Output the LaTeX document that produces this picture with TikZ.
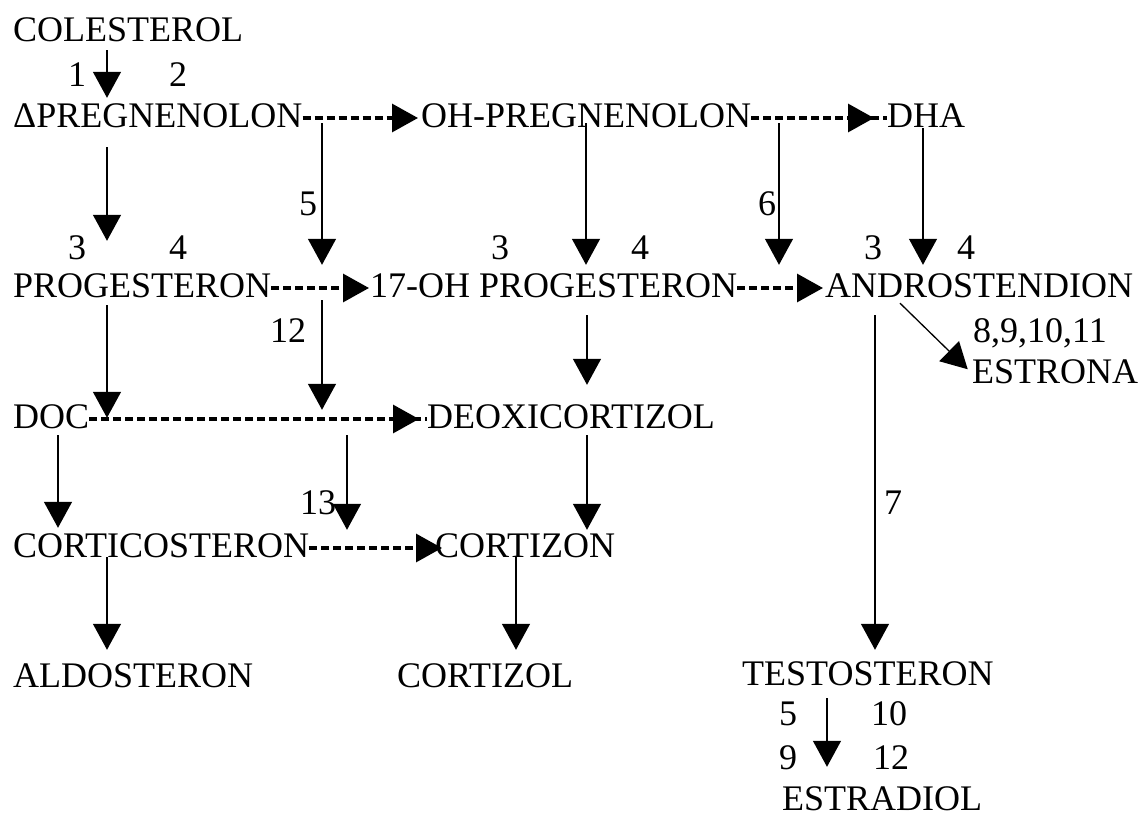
\documentclass[tikz,border=0pt]{standalone}
\usepackage{fontspec}
\setmainfont{Liberation Serif}
\usetikzlibrary{arrows.meta}

\tikzstyle{num} = [anchor=base, inner sep=0pt, font=\fontsize{36}{40}\selectfont]
\tikzset{
 h/.style
  = {anchor=base west, inner sep=0pt, text height=24pt, text depth=6pt,
     font=\fontsize{36}{40}\selectfont},
 ar/.style
  = {draw, line width=1.3pt, -{Triangle[length=26pt,width=28pt]}},
 dl/.style
  = {draw, line width=3.2pt, dash pattern=on 8pt off 4pt},
 dar/.style
  = {dl, -{Triangle[length=26pt,width=28pt]}, shorten >=#1},
 dar/.default = 1pt,
}

\begin{document}
\begin{tikzpicture}[x=1pt, y=-1pt]
\useasboundingbox (0,0) rectangle (1144,816);

% Colesterol
\node[h] (col) at (13,42) {COLESTEROL};
\node[num] (n1) at (77,87) {1};
\node[num] (n2) at (178,87) {2};

% Pregnenolon row
\node[h] (preg) at (13,127) {ΔPREGNENOLON};
\node[h] (ohpreg) at (421,127) {OH-PREGNENOLON};
\node[h] (dha) at (887,127) {DHA};

% Progesteron row
\node[h] (prog) at (13,297) {PROGESTERON};
\node[h] (ohprog) at (370,297) {17-OH PROGESTERON};
\node[h] (andro) at (825,297) {ANDROSTENDION};
\node[num] (p3) at (77,259) {3};
\node[num] (p4) at (178,259) {4};
\node[num] (q3) at (500,259) {3};
\node[num] (q4) at (640,259) {4};
\node[num] (r3) at (873,259) {3};
\node[num] (r4) at (966,259) {4};
\node[num] (n5) at (308,215) {5};
\node[num] (n6) at (767,215) {6};

% Estrona
\node[anchor=base west, inner sep=0pt, font=\fontsize{36}{40}\selectfont] (e8) at (973,342) {8,9,10,11};
\node[h] (estrona) at (972,383) {ESTRONA};

% Doc row
\node[h] (doc) at (13,428) {DOC};
\node[h] (deoxi) at (427,428) {DEOXICORTIZOL};
\node[num] (n12) at (288,342) {12};
\node[num] (n13) at (318,514) {13};
\node[num] (n7) at (893,514) {7};

% Corticosteron row
\node[h] (cortico) at (13,557) {CORTICOSTERON};
\node[h] (cortizon) at (435,557) {CORTIZON};

% last row
\node[h] (aldo) at (13,687) {ALDOSTERON};
\node[h] (cortizol) at (397,687) {CORTIZOL};
\node[h] (testo) at (742,685) {TESTOSTERON};
\node[num] (t5) at (788,725) {5};
\node[num] (t10) at (889,725) {10};
\node[num] (t9) at (788,769) {9};
\node[num] (t12) at (891,769) {12};
\node[h, text depth=0pt] (estradiol) at (782,810) {ESTRADIOL};

% dashed arrows
\draw[dl] (ohpreg.east) -- (dha.west);
\draw[dl] (doc.east) -- (deoxi.west);
\draw[dar=3pt] (preg.east) -- (ohpreg.west);
\draw[dar=13pt] (ohpreg.east) -- (dha.west);
\draw[dar=1pt] (prog.east) -- (ohprog.west);
\draw[dar=2pt] (ohprog.east) -- (andro.west);
\draw[dar=8pt] (doc.east) -- (deoxi.west);
\draw[dar=-7pt] (cortico.east) -- (cortizon.west);

% vertical arrows
\draw[ar, shorten <=2pt, shorten >=5pt] (107,0 |- col.south) -- (107,0 |- preg.north);
\draw[ar, shorten <=14pt, shorten >=32pt] (107,0 |- preg.south) -- (107,0 |- prog.north);
\draw[ar, shorten <=5pt, shorten >=8pt] (322,0 |- preg.east) -- (322,0 |- ohprog.north);
\draw[ar, shorten <=5pt, shorten >=8pt] (586,0 |- ohpreg.east) -- (586,0 |- ohprog.north);
\draw[ar, shorten <=5pt, shorten >=8pt] (779,0 |- ohpreg.east) -- (779,0 |- andro.north);
\draw[ar, shorten <=10pt, shorten >=8pt] (923,0 |- dha.east) -- (923,0 |- andro.north);

\draw[ar, shorten <=2pt, shorten >=-14pt] (107,0 |- prog.south) -- (107,0 |- doc.north);
\draw[ar, shorten <=12pt, shorten >=-6pt] (322,0 |- prog.east) -- (322,0 |- doc.north);
\draw[ar, shorten <=12pt, shorten >=19pt] (587,0 |- ohprog.south) -- (587,0 |- deoxi.north);

\draw[ar, shorten <=1pt, shorten >=5pt] (58,0 |- doc.south) -- (58,0 |- cortico.north);
\draw[ar, shorten <=1pt, shorten >=3pt] (347,0 |- doc.south) -- (347,0 |- cortico.north);
\draw[ar, shorten <=1pt, shorten >=3pt] (587,0 |- deoxi.south) -- (587,0 |- cortizon.north);

\draw[ar, shorten <=-6pt, shorten >=13pt] (107,0 |- cortico.south) -- (107,0 |- aldo.north);
\draw[ar, shorten <=-6pt, shorten >=13pt] (516,0 |- cortizon.south) -- (516,0 |- cortizol.north);

% androstendion branch
\draw[ar, shorten <=12pt, shorten >=11pt] (875,0 |- andro.south) -- (875,0 |- testo.north);
\draw[ar, shorten >=-15pt] (900,0 |- andro.south) -- (957,0 |- estrona.north);
\draw[ar, shorten <=7pt, shorten >=19pt] (827,0 |- testo.south) -- (827,0 |- estradiol.north);

\end{tikzpicture}
\end{document}
